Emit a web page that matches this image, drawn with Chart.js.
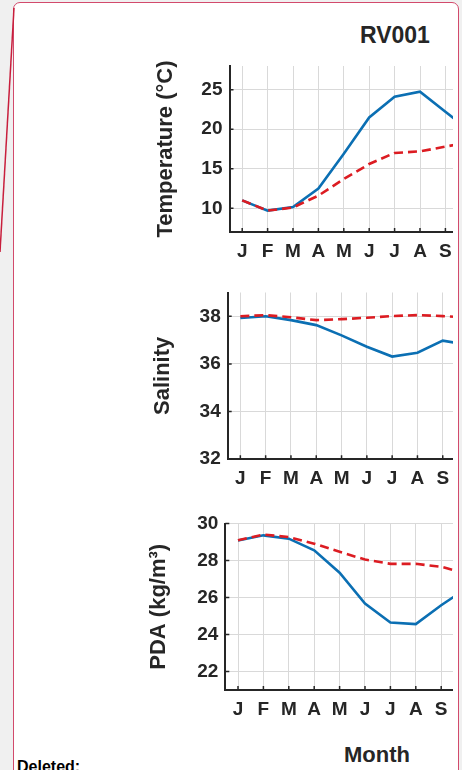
<!DOCTYPE html>
<html>
<head>
<meta charset="utf-8">
<script src="https://cdn.jsdelivr.net/npm/chart.js@4.4.1/dist/chart.umd.min.js"></script>
<style>
  html, body { margin: 0; padding: 0; }
  body {
    width: 462px; height: 770px; overflow: hidden; position: relative;
    background: #f0f0f0;
    font-family: "Liberation Sans", Arial, Helvetica, sans-serif;
  }
  #frame {
    position: absolute; left: 13px; top: 2px; width: 446px; height: 820px;
    box-sizing: border-box; background: #fff;
    border: 1.5px solid #d24a6c; border-radius: 7px;
  }
  #strike { position: absolute; left: 0; top: 0; }
  .plot { position: absolute; overflow: hidden; }
  .plot canvas { position: absolute; left: 0; top: 0; }
  .txt {
    position: absolute; font-weight: bold; color: #262626;
    line-height: 1; white-space: nowrap;
  }
</style>
</head>
<body>
<div id="frame"></div>
<svg id="strike" width="462" height="770">
  <line x1="14" y1="8" x2="0" y2="252" stroke="#c81e3c" stroke-width="1.5"/>
</svg>

<div class="txt" id="station" style="font-size:23px; left:360px; top:24px;">RV001</div>
<div class="plot" id="p1"></div>
<div class="plot" id="p2"></div>
<div class="plot" id="p3"></div>
<div class="txt" style="font-size:22px; left:344px; top:744px;">Month</div>
<div class="txt" style="font-size:16px; left:17px; top:759px; color:#000;">Deleted:</div>

<script>
// Month initials along every x axis
const months = ['J', 'F', 'M', 'A', 'M', 'J', 'J', 'A', 'S', 'O', 'N', 'D'];

// Temperature (°C)
const tempSolid  = [11.0, 9.7, 10.15, 12.5, 16.9, 21.5, 24.1, 24.75, 22.2, 19.7];
const tempDashed = [11.0, 9.7, 10.1, 11.6, 13.7, 15.6, 17.0, 17.2, 17.8, 18.4];

// Salinity
const salSolid  = [37.93, 38.0, 37.84, 37.63, 37.2, 36.72, 36.31, 36.47, 36.98, 36.8];
const salDashed = [38.0, 38.05, 37.96, 37.84, 37.88, 37.94, 38.01, 38.05, 38.01, 37.95];

// Potential density anomaly (kg/m³)
const pdaSolid  = [29.08, 29.36, 29.18, 28.55, 27.34, 25.67, 24.65, 24.56, 25.58, 26.5];
const pdaDashed = [29.1, 29.4, 29.27, 28.91, 28.47, 28.05, 27.82, 27.82, 27.66, 27.3];

// Axis ranges and tick steps
const tempRange = { min: 7, max: 28, step: 5 };
const salRange  = { min: 32, max: 39, step: 2 };
const pdaRange  = { min: 21, max: 30, step: 2 };

const FONT = '"Liberation Sans", Arial, Helvetica, sans-serif';
const INK = '#262626';
const BLUE = '#0b6fb3';
const RED = '#dc1c22';
const GRID = '#d9d9d9';

// Short inward tick marks on both axes
const innerTicks = {
  id: 'innerTicks',
  afterDraw(chart) {
    const { ctx, chartArea, scales: { x, y } } = chart;
    ctx.save();
    ctx.strokeStyle = INK;
    ctx.lineWidth = 1.5;
    ctx.beginPath();
    x.ticks.forEach((t, i) => {
      const px = x.getPixelForTick(i);
      ctx.moveTo(px, chartArea.bottom);
      ctx.lineTo(px, chartArea.bottom - 4);
    });
    y.ticks.forEach((t, i) => {
      const py = y.getPixelForTick(i);
      ctx.moveTo(chartArea.left, py);
      ctx.lineTo(chartArea.left + 4, py);
    });
    ctx.stroke();
    ctx.restore();
  }
};

// One panel: box = where the panel canvas sits on the page and where its axes fall
function panel(id, box, title, titlePad, range, solid, dashed) {
  const holder = document.getElementById(id);
  const canvasLeft = 140, clipRight = 453;
  const yW = box.axisX - canvasLeft;
  const plotW = months.length * box.cat;
  const padRight = 12;
  const cw = Math.ceil(yW + plotW + padRight);
  const ch = box.height;
  holder.style.left = canvasLeft + 'px';
  holder.style.top = box.top + 'px';
  holder.style.width = (clipRight - canvasLeft) + 'px';
  holder.style.height = ch + 'px';

  const cv = document.createElement('canvas');
  cv.width = cw; cv.height = ch;
  cv.style.width = cw + 'px'; cv.style.height = ch + 'px';
  holder.appendChild(cv);

  const tickFont = { family: FONT, size: 19, weight: 'bold' };

  new Chart(cv, {
    type: 'line',
    data: {
      labels: months,
      datasets: [
        {
          data: dashed, borderColor: RED, borderWidth: 2.6,
          borderDash: [9, 5], pointRadius: 0, tension: 0, fill: false
        },
        {
          data: solid, borderColor: BLUE, borderWidth: 2.6,
          pointRadius: 0, tension: 0, fill: false
        }
      ]
    },
    options: {
      responsive: false,
      animation: false,
      events: [],
      layout: {
        padding: {
          left: 0,
          top: box.axisTop - box.top,
          right: cw - yW - plotW,
          bottom: 0
        }
      },
      plugins: { legend: { display: false }, tooltip: { enabled: false } },
      scales: {
        x: {
          type: 'category',
          offset: true,
          grid: { color: GRID, lineWidth: 1, drawTicks: false, offset: false },
          border: { display: true, color: INK, width: 2 },
          ticks: {
            color: INK, font: tickFont, padding: 8,
            autoSkip: false, maxRotation: 0, minRotation: 0
          },
          afterFit(scale) { scale.height = box.top + ch - box.axisBottom; }
        },
        y: {
          min: range.min, max: range.max,
          grid: { color: GRID, lineWidth: 1, drawTicks: false },
          border: { display: true, color: INK, width: 2 },
          ticks: {
            stepSize: range.step, includeBounds: false,
            color: INK, font: tickFont, padding: 7
          },
          title: {
            display: true, text: title, color: INK,
            font: { family: FONT, size: 22, weight: 'bold' },
            padding: { top: titlePad, bottom: 0 }
          },
          afterFit(scale) { scale.width = yW; }
        }
      }
    },
    plugins: [innerTicks]
  });
}

panel('p1', { top: 0, height: 270, axisX: 229.5, axisTop: 66, axisBottom: 232, cat: 25.4 },
      'Temperature (°C)', 12.8, tempRange, tempSolid, tempDashed);
panel('p2', { top: 270, height: 225, axisX: 227.7, axisTop: 292.5, axisBottom: 459.2, cat: 25.3 },
      'Salinity', 9.8, salRange, salSolid, salDashed);
panel('p3', { top: 495, height: 230, axisX: 225.3, axisTop: 523.5, axisBottom: 690, cat: 25.4 },
      'PDA (kg/m³)', 6.2, pdaRange, pdaSolid, pdaDashed);
</script>
</body>
</html>
